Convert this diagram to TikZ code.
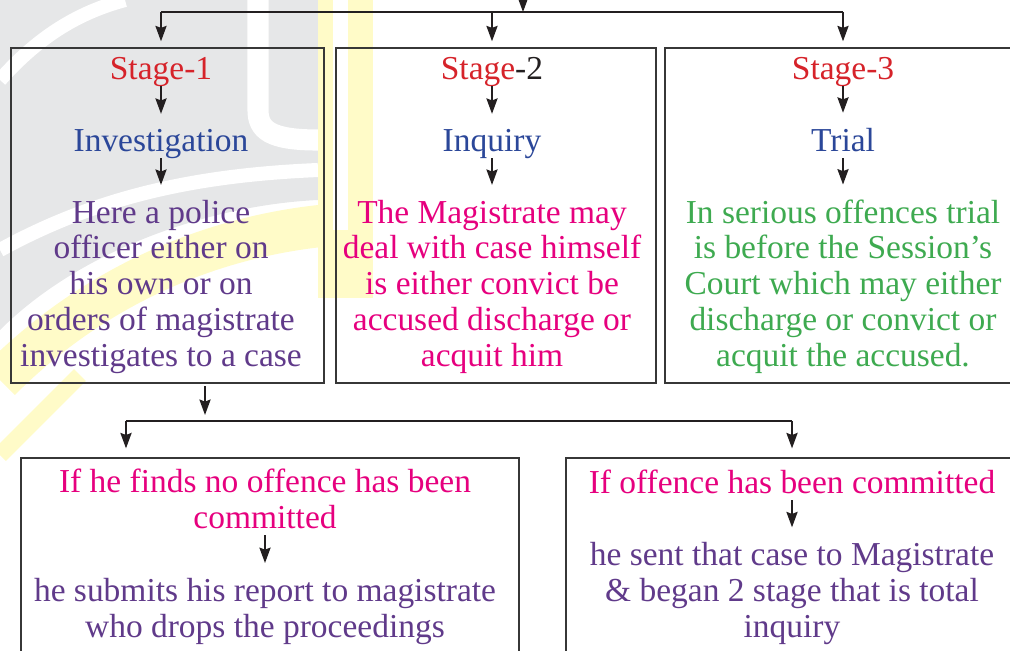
\documentclass[tikz,border=0pt]{standalone}
\usepackage{fontspec}
\setmainfont{Liberation Serif}
\usetikzlibrary{arrows.meta}

\definecolor{stagered}{RGB}{214,35,42}
\definecolor{titleblue}{RGB}{43,71,153}
\definecolor{bodypurple}{RGB}{96,58,138}
\definecolor{bodypink}{RGB}{230,0,126}
\definecolor{bodygreen}{RGB}{62,170,80}
\definecolor{inkblack}{RGB}{35,31,32}
\definecolor{boxgrey}{RGB}{55,55,55}
\definecolor{wmgrey}{RGB}{230,231,232}
\definecolor{wmyellow}{RGB}{255,251,200}

\begin{document}
\begin{tikzpicture}[x = 0.025cm, y = -0.025cm,
  box/.style = {draw = boxgrey, line width = 0.9pt, inner sep = 0pt},
  txt/.style = {inner sep = 0pt, align = center, anchor = base, text depth = 5pt,
    font = \fontsize{23.8}{25.4}\selectfont},
  arr/.style = {-{Stealth[length = 11pt, width = 8pt, inset = 1.5pt]},
    line width = 1pt, draw = inkblack},
  inarr/.style = {arr, shorten > = 10.5pt}]
  \useasboundingbox (0, 0) rectangle (1010, 650);
  \clip (0, 0) rectangle (1010, 650);

  \fill[wmgrey] (0, 0) -- (318, 0) -- (318, 200)
    .. controls (210, 205) and (80, 250) .. (0, 330) -- cycle;
  \draw[white, line width = 10pt] (0, 80) .. controls (40, 35) and (80, 12) .. (125, 0);
  \draw[white, line width = 15pt] (258, 0) -- (258, 110)
    .. controls (258, 130) and (270, 140) .. (318, 140);
  \draw[white, line width = 10pt] (0, 250) .. controls (100, 195) and (200, 175) .. (318, 170);
  \draw[wmyellow, line width = 30pt] (0, 380) .. controls (100, 280) and (220, 235) .. (330, 225);
  \fill[wmyellow] (318, 0) rectangle (373, 298);
  \fill[white] (333, 0) rectangle (348, 230);
  \draw[wmyellow, line width = 12pt] (0, 455) -- (80, 375);

  \node[box, minimum width = 7.825cm, minimum height = 8.375cm] (box1) at (167.5, 215.5) {};
  \node[box, minimum width = 8cm, minimum height = 8.375cm] (box2) at (496, 215.5) {};
  \node[box, minimum width = 8.9cm, minimum height = 8.375cm] (box3) at (843, 215.5) {};
  \node[box, minimum width = 12.45cm, minimum height = 5.55cm] (box4) at (270, 569) {};
  \node[box, minimum width = 11.3cm, minimum height = 5.55cm] (box5) at (792, 569) {};

  \node[txt, text = stagered] (s1) at (161, 79) {Stage-1};
  \node[txt, text = stagered] (s2) at (492, 79) {Stage\textcolor{inkblack}{-2}};
  \node[txt, text = stagered] (s3) at (843, 79) {Stage-3};

  \node[txt, text = titleblue] (t1) at (161, 151) {Investigation};
  \node[txt, text = titleblue] (t2) at (492, 151) {Inquiry};
  \node[txt, text = titleblue] (t3) at (843, 151) {Trial};

  \node[txt, text = bodypurple] (d1) at (161, 366) {Here a police\\officer either on\\his own or on\\orders of magistrate\\investigates to a case};
  \node[txt, text = bodypink] (d2) at (492, 366) {The Magistrate may\\deal with case himself\\is either convict be\\accused discharge or\\acquit him};
  \node[txt, text = bodygreen] (d3) at (843, 366) {In serious offences trial\\is before the Session’s\\Court which may either\\discharge or convict or\\acquit the accused.};

  \node[txt, text = bodypink] (f4) at (265, 528) {If he finds no offence has been\\committed};
  \node[txt, text = bodypurple] (g4) at (265, 637) {he submits his report to magistrate\\who drops the proceedings};
  \node[txt, text = bodypink] (f5) at (792, 493) {If offence has been committed};
  \node[txt, text = bodypurple] (g5) at (792, 637) {he sent that case to Magistrate\\\& began 2 stage that is total\\inquiry};

  \coordinate (in) at (523, 0);
  \coordinate (hub) at (523, 12);
  \draw[arr] (in) -- (hub);
  \draw[line width = 1pt, inkblack] (hub -| s1) -- (hub -| s3);
  \foreach \n in {1, 2, 3}{
    \draw[arr, shorten > = 4.3pt] (hub -| s\n) -- (box\n.north -| s\n);
    \draw[inarr] (s\n) -- (t\n);
    \draw[inarr] (t\n) -- (d\n);
  }

  \coordinate (split) at (205, 421);
  \coordinate (bl) at (126, 421);
  \draw[arr, shorten < = 2pt, shorten > = 4.3pt] (box1.south -| split) -- (split);
  \draw[line width = 1pt, inkblack] (bl) -- (bl -| f5);
  \draw[arr, shorten > = 6.4pt] (bl) -- (bl |- box4.north);
  \draw[arr, shorten > = 6.4pt] (bl -| f5) -- (box5.north -| f5);

  \draw[inarr] (f4.south -| g4) -- (g4);
  \draw[inarr] (f5) -- (g5);
\end{tikzpicture}
\end{document}
